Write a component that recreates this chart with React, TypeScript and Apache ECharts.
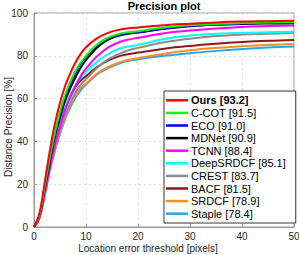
import React, { useEffect, useRef } from "react";
import * as echarts from "echarts";

const thresholds = [0, 1, 2, 3, 4, 5, 6, 7, 8, 9, 10, 12, 14, 16, 18, 20, 25, 30, 35, 40, 45, 50];

const trackerNames = ["Ours [93.2]", "C-COT [91.5]", "ECO [91.0]", "MDNet [90.9]", "TCNN [88.4]", "DeepSRDCF [85.1]", "CREST [83.7]", "BACF [81.5]", "SRDCF [78.9]", "Staple [78.4]"];
const trackerColors = ["#ff0000", "#00ff00", "#0000ff", "#000000", "#ff00ff", "#00ffff", "#8c8c8c", "#8b1a1a", "#ff8c26", "#26a6ee"];

const ours = [0, 6, 20, 35, 48, 58, 66, 72, 77, 81, 84, 88, 90.5, 92, 92.8, 93.2, 94.3, 95.0, 95.6, 96.0, 96.2, 96.4];
const ccot = [0, 5, 18, 32, 44, 54, 62, 68, 73, 77, 80, 85, 88.2, 90, 91, 91.5, 93.2, 94.3, 94.9, 95.3, 95.6, 95.8];
const eco = [0, 5, 17, 31, 43, 53, 61, 67, 72, 76.5, 79.5, 84.5, 87.8, 89.6, 90.5, 91.0, 92.8, 94.0, 94.7, 95.1, 95.4, 95.5];
const mdnet = [0, 5, 17, 30, 42, 51, 59, 65, 70, 74.5, 78, 83.5, 87.2, 89.2, 90.3, 90.9, 92.6, 93.8, 94.5, 94.9, 95.1, 95.2];
const tcnn = [0, 4, 15, 27, 38, 47, 55, 61, 66, 70.5, 74, 79.5, 83.5, 86, 87.5, 88.4, 90.5, 91.8, 92.8, 93.5, 93.9, 94.2];
const deepsrdcf = [0, 5, 17, 30, 40, 49, 56, 62, 66.5, 70, 72.5, 77, 80.5, 83, 84.3, 85.1, 87.8, 89.5, 90.3, 90.8, 91.0, 91.2];
const crest = [0, 4, 15, 27, 37, 45, 52, 58, 63, 66.5, 69, 74, 78, 80.5, 82.5, 83.7, 86.3, 88.0, 89.2, 89.9, 90.3, 90.6];
const bacf = [0, 5, 16, 29, 39, 47, 55, 61, 65.5, 68.5, 70.5, 74.5, 77.5, 79.5, 80.7, 81.5, 83.3, 84.6, 85.6, 86.4, 87.0, 87.4];
const srdcf = [0, 4, 14, 26, 36, 44, 51, 57, 61.5, 65, 67, 71.5, 74.5, 76.5, 78, 78.9, 81.0, 82.6, 83.7, 84.5, 85.1, 85.5];
const staple = [0, 4, 14, 26, 35.5, 43.5, 50.5, 56, 60.5, 64, 66.5, 71, 74, 76, 77.5, 78.4, 80.0, 81.2, 82.3, 83.2, 83.9, 84.4];

const trackerValues = [ours, ccot, eco, mdnet, tcnn, deepsrdcf, crest, bacf, srdcf, staple];

const FONT = "Liberation Sans, Arial, Helvetica, sans-serif";

export default function App() {
  const ref = useRef<HTMLDivElement>(null);
  useEffect(() => {
    if (!ref.current) return;
    const chart = echarts.init(ref.current, undefined, { renderer: "svg" });
    const series = trackerNames
      .map((name, i) => ({
        name,
        type: "line" as const,
        data: thresholds.map((t, j) => [t, trackerValues[i][j]]),
        smooth: 0.4,
        showSymbol: false,
        symbol: "none",
        lineStyle: { color: trackerColors[i], width: 2 },
        itemStyle: { color: trackerColors[i] },
      }))
      .reverse();
    chart.setOption({
      animation: false,
      backgroundColor: "#ffffff",
      title: {
        text: "Precision plot",
        left: 164,
        textAlign: "center",
        top: 0,
        padding: 0,
        textStyle: { fontFamily: FONT, fontSize: 11, fontWeight: "bold", color: "#000" },
      },
      grid: {
        left: 34,
        right: 5,
        top: 13,
        bottom: 28,
        containLabel: false,
        outerBoundsMode: "none",
        show: true,
        borderColor: "#9a9a9a",
        borderWidth: 1,
      },
      xAxis: {
        type: "value",
        min: 0,
        max: 50,
        interval: 10,
        name: "Location error threshold [pixels]",
        nameLocation: "middle",
        nameGap: 16,
        nameMoveOverlap: false,
        nameTextStyle: { fontFamily: FONT, fontSize: 10, color: "#262626", padding: [0, 32, 0, 0] },
        axisLine: { show: true, lineStyle: { color: "#9a9a9a" } },
        axisTick: { inside: true, length: 3, lineStyle: { color: "#9a9a9a" } },
        axisLabel: { fontFamily: FONT, fontSize: 10, color: "#262626", margin: 4 },
        splitLine: { show: true, lineStyle: { color: "#dedede", type: [2, 3] } },
      },
      yAxis: {
        type: "value",
        min: 0,
        max: 100,
        interval: 20,
        name: "Distance Precision [%]",
        nameLocation: "middle",
        nameGap: 21,
        nameMoveOverlap: false,
        nameTextStyle: { fontFamily: FONT, fontSize: 10, color: "#262626", padding: [0, 14, 0, 0] },
        axisLine: { show: true, lineStyle: { color: "#9a9a9a" } },
        axisTick: { inside: true, length: 3, lineStyle: { color: "#9a9a9a" } },
        axisLabel: { fontFamily: FONT, fontSize: 10, color: "#262626", margin: 6 },
        splitLine: { show: true, lineStyle: { color: "#dedede", type: [2, 3] } },
      },
      legend: {
        data: trackerNames,
        orient: "vertical",
        left: 164,
        top: 91,
        padding: [3, 10, 3, 2],
        itemGap: 0,
        itemWidth: 22,
        itemHeight: 2.5,
        icon: "rect",
        backgroundColor: "#ffffff",
        borderColor: "#333333",
        borderWidth: 1,
        borderRadius: 0,
        formatter: (name: string) => (name.startsWith("Ours") ? `{b|${name}}` : name),
        textStyle: {
          fontFamily: FONT,
          fontSize: 11,
          color: "#000",
          lineHeight: 12.6,
          padding: [0, 0, 0, -2],
          rich: { b: { fontFamily: FONT, fontSize: 11, fontWeight: "bold", color: "#000", lineHeight: 12.6 } },
        },
      },
      series,
    });
    return () => chart.dispose();
  }, []);
  return <div ref={ref} style={{ position: "fixed", left: 0, top: 0, width: 299, height: 255 }} />;
}
